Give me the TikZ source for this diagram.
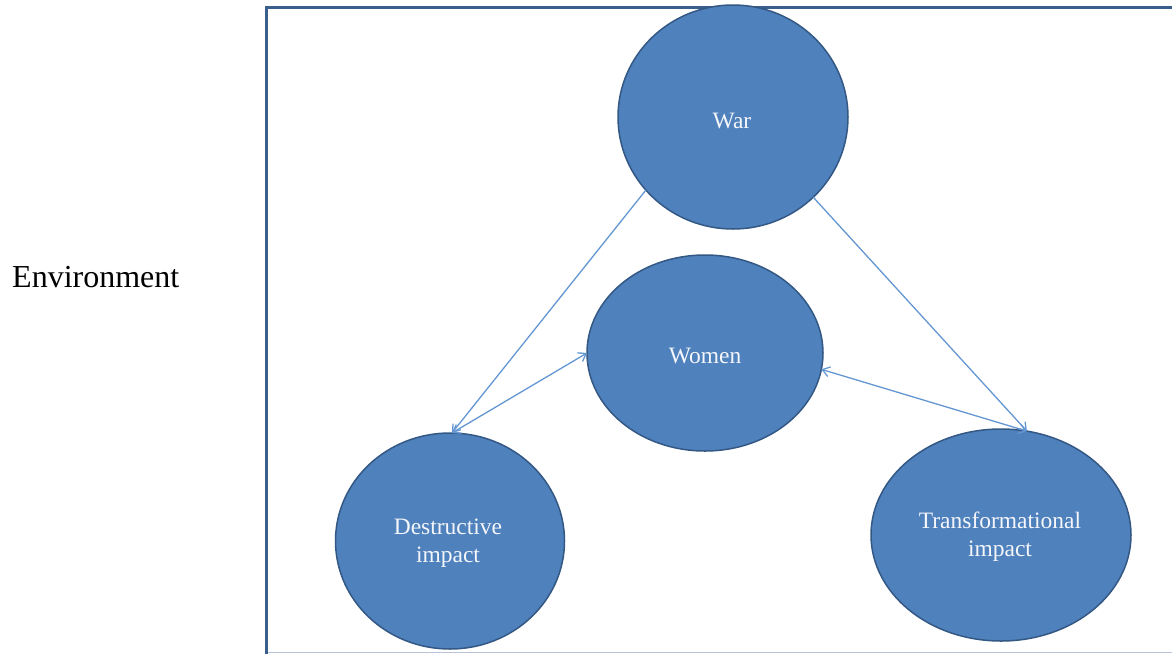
\documentclass[tikz,border=0pt]{standalone}
\usepackage{fontspec}
\setmainfont{Liberation Serif}
\usetikzlibrary{shapes.geometric,arrows.meta}
\definecolor{ellfill}{RGB}{79,129,189}
\definecolor{elldraw}{RGB}{52,88,132}
\definecolor{arrcol}{RGB}{100,150,210}
\definecolor{framecol}{RGB}{58,95,140}
\definecolor{framelight}{RGB}{185,195,215}
\definecolor{txtcol}{RGB}{244,246,250}
\tikzset{
  bubble/.style={ellipse, draw=elldraw, line width=1.5pt, fill=ellfill,
    inner sep=0pt, outer sep=0pt},
  bubtext/.style={text=txtcol, align=center, inner sep=0pt,
    font=\fontsize{23.5}{28}\selectfont},
  link/.style={draw=arrcol, line width=1.3pt},
  tip/.style={-{Straight Barb[length=7pt,width=10pt]}},
  tips/.style={{Straight Barb[length=7pt,width=10pt]}-{Straight Barb[length=7pt,width=10pt]}}
}
\begin{document}
\begin{tikzpicture}[x=1pt,y=-1pt]
\useasboundingbox (0,0) rectangle (1172,654);
% frame
\draw[framelight, line width=1.2pt] (266,652.5) -- (1172,652.5);
\draw[framecol, line width=2.6pt] (266.5,654) -- (266.5,7.5) -- (1172,7.5);
\node[font=\fontsize{32}{38}\selectfont, anchor=base west, inner sep=0pt] (env) at (12,287) {Environment};
% ellipses
\node[bubble, minimum width=230pt, minimum height=224pt] (war) at (733,117) {};
\node[bubble, minimum width=236pt, minimum height=196pt] (women) at (705,353) {};
\node[bubble, minimum width=229pt, minimum height=216pt] (dest) at (450,541) {};
\node[bubble, minimum width=260pt, minimum height=212pt] (trans) at (1001,535) {};
\node[bubtext] (wart) at (732,121) {War};
\node[bubtext] (woment) at (705,356) {Women};
\node[bubtext] (destt) at (448,543) {Destructive\\impact};
\node[bubtext] (transt) at (1000,537) {Transformational\\impact};
% connectors
\draw[link, tip] (war.220) -- (dest.89);
\draw[link, tip] (war.315) -- (trans.76);
\draw[link, tips] (dest.89) -- (women.180);
\draw[link, tips] (women.352) -- (trans.76);
\end{tikzpicture}
\end{document}
